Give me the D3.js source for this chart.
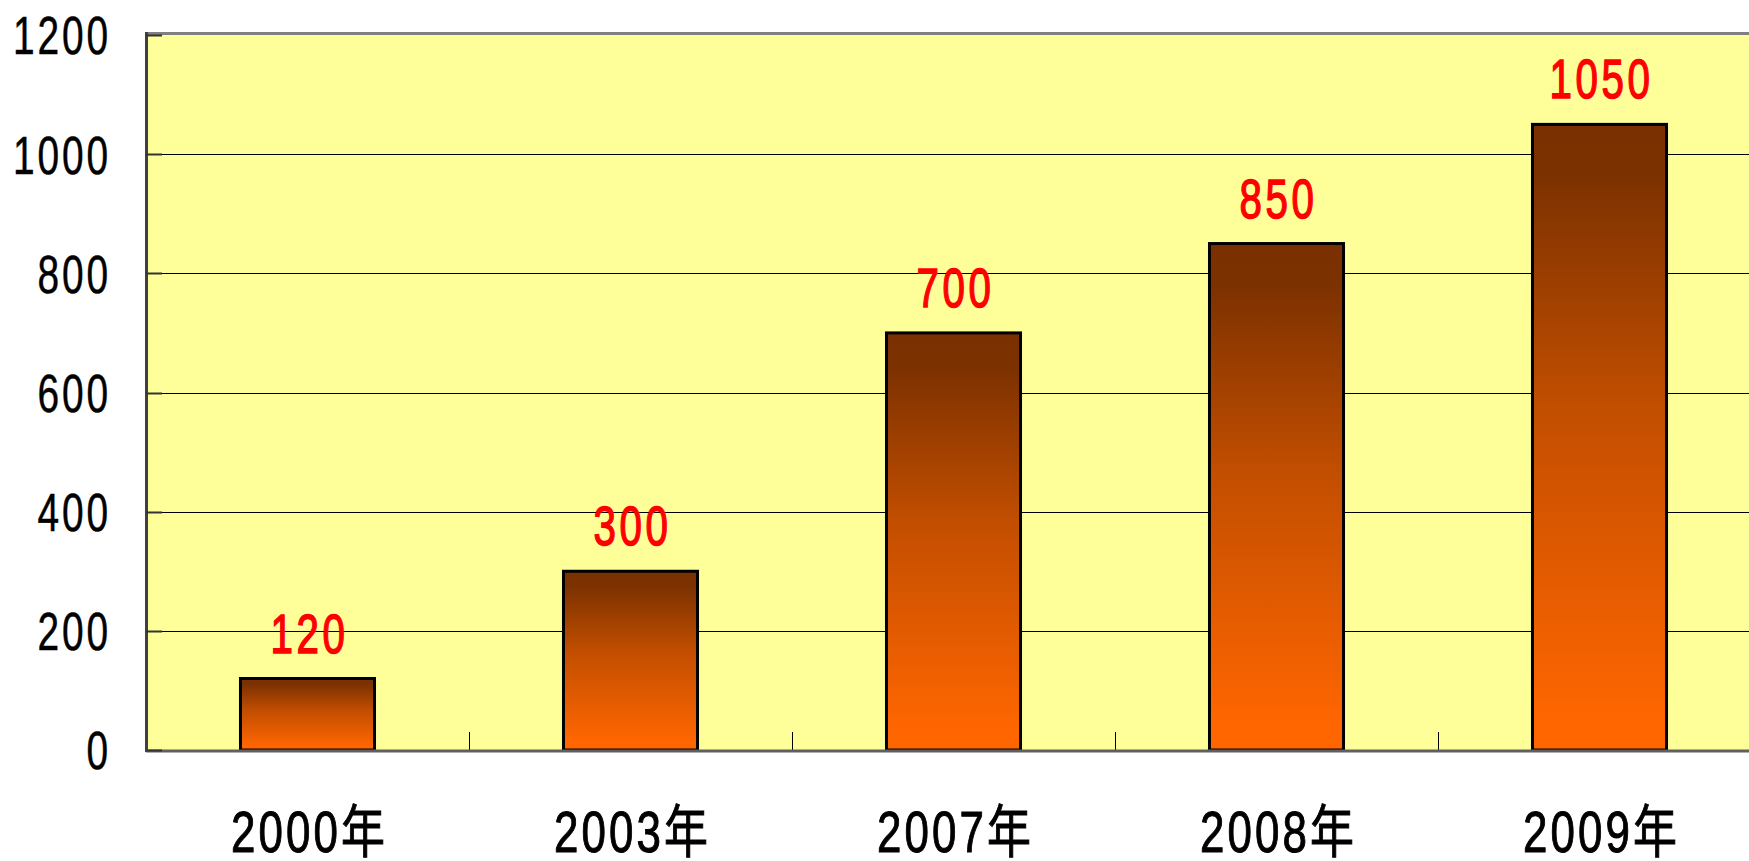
<!DOCTYPE html>
<html lang="zh">
<head>
    <meta charset="UTF-8">
    <title>Chart</title>
    <script src="https://cdn.jsdelivr.net/npm/d3@7"></script>
    <style>
        body { margin: 0; background: #fff; }
        text { font-family: "Liberation Sans", Arial, "Noto Sans CJK SC", sans-serif; }
    </style>
</head>
<body>
<svg width="1749" height="861"></svg>
<script>

    // data
    var categories = ["2000年", "2003年", "2007年", "2008年", "2009年"];
    var values = [120, 300, 700, 850, 1050];
    var yTicks = [0, 200, 400, 600, 800, 1000, 1200];

    var svg = d3.select("svg");

    var plotLeft = 146, plotRight = 1761, plotTop = 35, plotBottom = 750;

    // no narrow font installed, so text is squeezed horizontally and spaced a bit
    var squeeze = 0.72;

    var x = d3.scaleBand()
        .domain(categories)
        .range([plotLeft, plotRight])
        .paddingInner(0.585)
        .paddingOuter(0.2925);

    var xBand = d3.scaleBand().domain(categories).range([plotLeft, plotRight]);

    var y = d3.scaleLinear()
        .domain([0, 1200])
        .range([plotBottom, plotTop]);

    // gradient for the bars
    var grad = svg.append("defs").append("linearGradient")
        .attr("id", "barGrad")
        .attr("x1", 0).attr("y1", 0).attr("x2", 0).attr("y2", 1);
    grad.append("stop").attr("offset", "0%").attr("stop-color", "#7a3000");
    grad.append("stop").attr("offset", "8%").attr("stop-color", "#7c3100");
    grad.append("stop").attr("offset", "45%").attr("stop-color", "#c24e00");
    grad.append("stop").attr("offset", "95%").attr("stop-color", "#ff6600");
    grad.append("stop").attr("offset", "100%").attr("stop-color", "#ff6600");

    // plot background
    svg.append("rect")
        .attr("x", plotLeft).attr("y", plotTop)
        .attr("width", plotRight - plotLeft).attr("height", plotBottom - plotTop)
        .attr("fill", "#ffff99");

    // grid lines
    svg.append("g")
        .selectAll("line")
        .data(yTicks.slice(1, -1))
        .enter().append("line")
        .attr("x1", plotLeft).attr("x2", plotRight)
        .attr("y1", function (d) { return Math.round(y(d)) + 0.5; })
        .attr("y2", function (d) { return Math.round(y(d)) + 0.5; })
        .style("stroke", "#000")
        .style("stroke-width", 1);

    // top border
    svg.append("line")
        .attr("x1", plotLeft).attr("x2", plotRight)
        .attr("y1", plotTop - 1.5).attr("y2", plotTop - 1.5)
        .style("stroke", "#808080").style("stroke-width", 3);

    // category tick marks
    svg.append("g")
        .selectAll("line")
        .data(categories.slice(1))
        .enter().append("line")
        .attr("x1", function (d) { return Math.round(xBand(d)) + 0.5; })
        .attr("x2", function (d) { return Math.round(xBand(d)) + 0.5; })
        .attr("y1", plotBottom).attr("y2", plotBottom - 18)
        .style("stroke", "#000").style("stroke-width", 1);

    // bars
    svg.append("g")
        .selectAll("rect")
        .data(values)
        .enter().append("rect")
        .attr("x", function (d, i) { return x(categories[i]); })
        .attr("y", function (d) { return y(d); })
        .attr("width", x.bandwidth())
        .attr("height", function (d) { return plotBottom - y(d); })
        .attr("fill", "url(#barGrad)")
        .style("stroke", "#000")
        .style("stroke-width", 3);

    // value labels
    svg.append("g")
        .selectAll("text")
        .data(values)
        .enter().append("text")
        .attr("transform", function (d, i) {
            return "translate(" + (x(categories[i]) + x.bandwidth() / 2 + 2) + "," + (y(d) - 26) + ") scale(" + squeeze + ",1)";
        })
        .attr("text-anchor", "middle")
        .attr("fill", "#ff0000")
        .style("stroke", "#ff0000")
        .style("stroke-width", 1.5)
        .style("letter-spacing", "5px")
        .style("font-size", "56px")
        .text(function (d) { return d; });

    // left axis
    svg.append("line")
        .attr("x1", plotLeft + 0.5).attr("x2", plotLeft + 0.5)
        .attr("y1", plotTop - 3).attr("y2", plotBottom + 2)
        .style("stroke", "#404040").style("stroke-width", 3);

    // bottom axis
    svg.append("line")
        .attr("x1", plotLeft).attr("x2", plotRight)
        .attr("y1", plotBottom + 1).attr("y2", plotBottom + 1)
        .style("stroke", "#606060").style("stroke-width", 3);

    // y tick marks
    svg.append("g")
        .selectAll("line")
        .data(yTicks)
        .enter().append("line")
        .attr("x1", plotLeft).attr("x2", plotLeft + 16)
        .attr("y1", function (d) { return Math.round(y(d)) + 0.5; })
        .attr("y2", function (d) { return Math.round(y(d)) + 0.5; })
        .style("stroke", "#333").style("stroke-width", 2);

    // y labels
    svg.append("g")
        .selectAll("text")
        .data(yTicks)
        .enter().append("text")
        .attr("transform", function (d) {
            return "translate(111," + y(d) + ") scale(" + squeeze + ",1)";
        })
        .attr("dy", "0.36em")
        .attr("text-anchor", "end")
        .attr("fill", "#000")
        .style("stroke", "#000")
        .style("stroke-width", 0.5)
        .style("letter-spacing", "4px")
        .style("font-size", "54px")
        .text(function (d) { return d; });

    // x labels
    svg.append("g")
        .selectAll("text")
        .data(categories)
        .enter().append("text")
        .attr("transform", function (d) {
            return "translate(" + (xBand(d) + xBand.bandwidth() / 2 + 2) + ",852) scale(0.77,1)";
        })
        .attr("text-anchor", "middle")
        .attr("fill", "#000")
        .style("stroke", "#000")
        .style("stroke-width", 1)
        .style("letter-spacing", "4px")
        .style("font-size", "57px")
        .text(function (d) { return d; });

</script>
</body>
</html>
